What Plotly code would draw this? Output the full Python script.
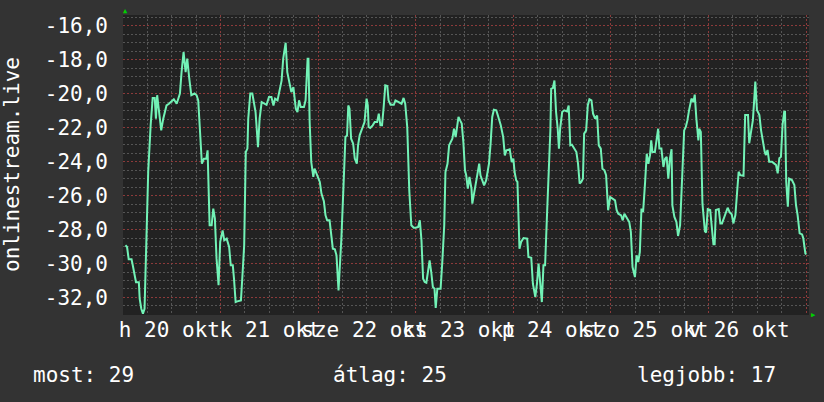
import pandas as pd
import plotly.graph_objects as go

start = pd.Timestamp("2014-10-20 00:00")

hours = [
    0.6, 1.0, 1.4, 2.1, 2.4, 2.8, 3.2, 3.9, 4.1, 4.5, 4.9, 5.3, 5.7, 6.2, 6.8, 7.3, 7.8, 8.1, 8.4, 8.8,
    9.4, 9.9, 10.3, 10.7, 11.3, 11.8, 12.5, 13.2, 13.5, 14.0, 14.4, 14.9, 15.4, 15.8, 16.3, 16.8, 17.6, 18.1,
    18.5, 18.9, 19.4, 19.9, 20.5, 20.8, 21.3, 21.8, 22.2, 22.6, 23.0, 23.5,
    23.9, 24.5, 24.9, 25.5, 26.1, 26.5, 27.0, 27.3, 27.7, 28.1, 29.0, 29.4, 29.8, 30.2, 30.6, 30.8, 31.3,
    31.8, 32.2, 32.6, 33.2, 33.6, 34.1, 34.7, 35.3, 35.9, 36.5, 37.0, 37.4, 38.0, 38.5, 39.0, 39.4, 40.0,
    40.4, 40.9, 41.4, 41.9, 42.5, 42.9, 43.3, 43.7, 44.5, 44.9, 45.4, 45.6, 45.9, 46.3, 46.8, 47.1,
    48.0, 48.4, 48.8, 49.4, 49.8, 50.2, 50.8, 51.2, 51.6, 52.1, 52.5, 53.0, 53.3, 53.7, 54.2, 54.7, 55.1,
    55.4, 55.7, 56.1, 56.6, 57.0, 57.5, 57.8, 58.2, 58.6, 59.0, 59.4, 59.9, 60.2, 60.4, 60.8, 61.4, 61.9,
    62.5, 62.9, 63.3, 63.7, 64.1, 64.5, 65.0, 65.3, 65.8, 66.6, 67.0, 67.6, 68.5, 69.0, 69.4, 69.9, 70.4,
    70.9, 71.5,
    72.0, 72.6, 73.0, 73.4, 73.8, 74.2, 74.6, 75.0, 75.4, 75.8, 76.2, 76.6, 76.9, 77.3, 78.1, 78.5, 79.0,
    79.3, 79.8, 80.2, 80.7, 81.0, 81.4, 81.8, 82.1, 82.5, 82.9, 83.3, 83.7, 84.1, 84.4, 84.8, 85.2, 85.7,
    85.9, 86.3, 86.7, 87.1, 87.6, 87.9, 88.4, 88.8, 89.3, 90.0, 90.4, 90.8, 91.2, 91.8, 92.3, 92.9, 93.5,
    93.9, 94.3, 95.1, 95.6, 96.0,
    96.3, 96.7, 97.0, 97.5, 97.9, 98.5, 99.4, 99.7, 100.4, 100.8, 101.4, 101.8, 102.2, 102.6, 103.0,
    103.4, 103.8, 104.3, 104.8, 105.1, 105.3, 105.7, 106.1, 106.5, 106.9, 107.2, 107.5, 108.0, 108.5,
    109.2, 109.6, 110.0, 110.4, 111.0, 111.5, 111.9, 112.3, 112.7, 113.1, 113.4, 113.9, 114.3, 114.7,
    115.2, 115.6, 116.1, 116.6, 117.0, 117.5, 117.9, 118.4, 118.8, 119.3,
    119.8, 120.3, 121.0, 121.4, 121.8, 122.5, 122.9, 123.3, 123.7, 124.1, 124.5, 124.9, 125.3, 125.9,
    126.3, 126.7, 127.1, 127.5, 127.9, 128.4, 128.8, 129.2, 129.6, 129.9, 130.2, 130.8, 131.2, 131.6,
    131.9, 132.4, 132.9, 133.3, 133.7, 134.1, 134.5, 134.9, 135.1, 135.6, 136.1, 136.5, 137.0, 137.5,
    138.0, 138.4, 138.8, 139.2, 139.8, 140.3, 140.6, 141.0, 141.5, 141.7, 142.1, 142.5, 143.1,
    143.4, 143.8, 144.4, 144.8, 145.2, 145.5, 145.8, 146.5, 146.9, 147.3, 147.7, 148.3, 148.7, 149.2,
    149.7, 150.1, 150.6, 151.0, 151.4, 151.8, 152.6, 153.0, 153.7, 154.0, 154.4, 154.9, 155.2, 155.5,
    155.9, 156.5, 156.9, 157.3, 157.8, 158.1, 158.5, 158.9, 159.6, 160.1, 160.6, 161.0, 161.4, 161.8,
    162.2, 162.6, 162.8, 163.1, 163.5, 163.8, 164.5, 165.1, 165.5, 165.9, 166.4, 167.0, 167.3, 167.8, 168.0,
]

values = [
    -28.93, -29.03, -29.75, -29.75, -30.1, -30.7, -31.1, -31.1, -32.07, -32.66, -32.95, -32.66, -29.2,
    -24.6, -21.87, -20.26, -20.26, -21.48, -20.1, -20.9, -22.17, -21.48, -21.09, -20.7, -20.6, -20.5,
    -20.34, -20.6, -20.4, -20.0, -18.74, -17.56, -18.74, -17.95, -19.13, -20.1, -20.0, -20.1, -20.4,
    -21.97, -24.13, -23.83, -23.83, -23.34, -27.75, -27.75, -26.77, -27.36, -29.7, -31.28,
    -28.73, -28.05, -28.64, -28.54, -29.03, -30.1, -30.1, -30.9, -32.27, -32.23, -32.17, -30.6, -28.93,
    -23.44, -23.24, -21.48, -20.0, -20.0, -20.6, -21.09, -23.15, -21.48, -20.5, -20.6, -20.66, -20.2,
    -20.2, -20.7, -20.3, -20.4, -19.9, -19.24, -17.95, -17.01, -18.74, -19.33, -19.92, -19.62, -20.9,
    -21.09, -20.4, -20.79, -20.79, -20.4, -17.95, -17.95, -21.68, -24.03, -24.91, -24.42,
    -24.91, -25.2, -25.89, -26.34, -27.17, -27.46, -27.46, -28.24, -29.13, -29.17, -29.52, -31.58,
    -30.5, -28.54, -25.6, -22.56, -22.46, -20.7, -20.9, -22.66, -22.95, -23.83, -24.13, -23.05, -22.46,
    -22.17, -21.87, -21.68, -20.3, -20.7, -21.97, -22.03, -21.87, -21.68, -21.68, -21.19, -21.87,
    -21.87, -20.8, -19.52, -19.56, -20.4, -20.66, -20.66, -20.4, -20.5, -20.6, -20.26, -20.6, -21.97,
    -25.7, -27.75, -27.9,
    -27.9, -27.85, -27.46, -28.64, -30.89, -31.09, -31.13, -30.5, -29.82, -30.5, -31.38, -31.48, -32.62,
    -31.48, -31.48, -30.01, -27.75, -24.62, -24.13, -23.05, -22.85, -22.66, -22.07, -22.56, -22.07,
    -21.38, -21.58, -21.77, -22.85, -24.52, -24.81, -25.6, -24.91, -25.6, -26.48, -25.89, -25.5, -24.91,
    -24.13, -24.81, -25.2, -25.4, -25.11, -24.13, -22.95, -21.38, -20.95, -20.99, -21.38, -21.87,
    -22.56, -23.64, -23.34, -23.28, -24.03, -23.83,
    -24.62, -25.11, -25.2, -29.13, -28.73, -28.5, -28.54, -29.62, -29.66, -31.19, -31.97, -31.19,
    -30.01, -31.28, -32.27, -30.1, -30.1, -26.97, -24.13, -22.17, -19.72, -19.68, -19.23, -21.09,
    -22.07, -23.24, -22.07, -21.09, -20.99, -21.05, -20.7, -23.05, -23.01, -23.24, -23.44, -24.13,
    -25.3, -25.2, -25.01, -22.36, -22.17, -20.7, -20.34, -20.4, -21.19, -21.48, -21.29, -23.05,
    -23.24, -24.42, -24.52, -24.81, -26.87,
    -26.09, -26.19, -26.29, -26.87, -27.07, -27.17, -27.46, -27.07, -27.26, -27.46, -27.56, -28.15,
    -30.21, -30.8, -29.52, -29.91, -29.33, -26.77, -26.97, -25.2, -23.54, -24.13, -23.64, -22.76,
    -23.44, -23.44, -22.85, -22.07, -23.24, -23.24, -24.32, -23.83, -23.73, -25.01, -23.83, -23.28,
    -26.58, -27.26, -27.56, -28.38, -27.75, -25.01, -22.17, -21.97, -21.58, -20.99, -20.3, -20.5,
    -20.06, -21.48, -22.76, -22.07, -22.27, -26.48, -28.11,
    -28.17, -26.8, -26.85, -28.13, -28.87, -28.87, -26.85, -26.8, -27.64, -27.64, -27.35, -27.05,
    -26.72, -27.0, -27.11, -27.64, -27.15, -25.87, -24.6, -24.8, -24.84, -21.27, -21.27, -22.93,
    -22.25, -21.56, -20.48, -19.3, -20.97, -21.27, -22.15, -22.83, -23.42, -23.62, -23.32, -24.01,
    -24.01, -24.11, -24.21, -24.7, -23.81, -23.72, -21.85, -21.07, -21.07, -25.19, -26.66, -25.0,
    -25.09, -25.38, -26.56, -27.15, -28.23, -28.29, -28.52, -29.4, -29.47,
]

day_labels = ["h 20 okt", "k 21 okt", "sze 22 okt", "cs 23 okt", "p 24 okt", "szo 25 okt", "v 26 okt"]
day_label_hours = [11.4, 36.2, 59.4, 82.6, 105.6, 128.4, 151.5]

y_tick_values = [-32, -30, -28, -26, -24, -22, -20, -18, -16]
y_tick_labels = ["-32,0", "-30,0", "-28,0", "-26,0", "-24,0", "-22,0", "-20,0", "-18,0", "-16,0"]

summary_labels = ["most: 29", "átlag: 25", "legjobb: 17"]
y_title = "onlinestream.live"

times = [start + pd.Timedelta(hours=h) for h in hours]
label_times = [start + pd.Timedelta(hours=h) for h in day_label_hours]

FONT = "DejaVu Sans Mono"
FS = 21
BG = "#333333"
PLOT_BG = "#222222"
MINOR = "#555555"
MAJOR = "#8c3a3a"
LINE = "#72F2B6"

x_range = [start, start + pd.Timedelta(hours=168.7)]

fig = go.Figure()
fig.add_trace(go.Scatter(x=times, y=values, mode="lines",
                         line=dict(color=LINE, width=2), showlegend=False, hoverinfo="skip"))
# invisible companion trace so the label axis is drawn
fig.add_trace(go.Scatter(x=label_times, y=[None] * len(label_times), xaxis="x2", yaxis="y",
                         mode="lines", showlegend=False, hoverinfo="skip"))

fig.update_layout(
    width=824, height=402,
    margin=dict(l=123, r=15, t=15, b=87, autoexpand=False),
    paper_bgcolor=BG, plot_bgcolor=PLOT_BG,
    font=dict(family=FONT, size=FS, color="#ffffff"),
    showlegend=False,
    xaxis=dict(
        type="date", range=x_range, automargin=False,
        tickmode="linear", tick0=start, dtick=86400000,
        showticklabels=False, ticks="",
        showgrid=True, gridcolor=MAJOR, griddash="2px,2px", gridwidth=1,
        minor=dict(tickmode="linear", dtick=21600000, tick0=start, showgrid=True, gridcolor=MINOR,
                   griddash="2px,2px", gridwidth=1, ticks=""),
        zeroline=False, showline=False,
    ),
    xaxis2=dict(
        type="date", range=x_range, overlaying="x", anchor="y", side="bottom", automargin=False,
        tickmode="array", tickvals=label_times, ticktext=day_labels, tickangle=0,
        showgrid=False, ticks="", zeroline=False, showline=False,
        tickfont=dict(family=FONT, size=FS, color="#ffffff"),
    ),
    yaxis=dict(
        range=[-33.03, -15.38], automargin=False,
        tickmode="array", tickvals=y_tick_values, ticktext=y_tick_labels,
        showgrid=True, gridcolor=MAJOR, griddash="2px,2px", gridwidth=1,
        minor=dict(tickmode="linear", dtick=0.5, tick0=0, showgrid=True, gridcolor=MINOR,
                   griddash="2px,2px", gridwidth=1, ticks=""),
        ticks="", ticklabelstandoff=14, zeroline=False, showline=False,
        tickfont=dict(family=FONT, size=FS, color="#ffffff"),
    ),
)

annotations = [
    dict(text=y_title, xref="paper", yref="paper", x=-0.1618, y=0.5, textangle=-90,
         showarrow=False, xanchor="center", yanchor="middle",
         font=dict(family=FONT, size=FS, color="#ffffff")),
    dict(text="▲", xref="paper", yref="paper", x=0.003, y=1.015, showarrow=False,
         xanchor="center", yanchor="middle", font=dict(size=7, color="#00d000")),
    dict(text="▶", xref="paper", yref="paper", x=1.006, y=0.0, showarrow=False,
         xanchor="center", yanchor="middle", font=dict(size=7, color="#00d000")),
]
summary_x = [-0.1345, 0.3025, 0.7470]
for txt, sx in zip(summary_labels, summary_x):
    annotations.append(dict(text=txt, xref="paper", yref="paper", x=sx, y=-0.2,
                            showarrow=False, xanchor="left", yanchor="middle",
                            font=dict(family=FONT, size=FS, color="#ffffff")))
fig.update_layout(annotations=annotations)

fig.write_html("out.html", config={"displayModeBar": False},
               post_script="document.body.style.margin='0';document.body.style.background='#333333';")
